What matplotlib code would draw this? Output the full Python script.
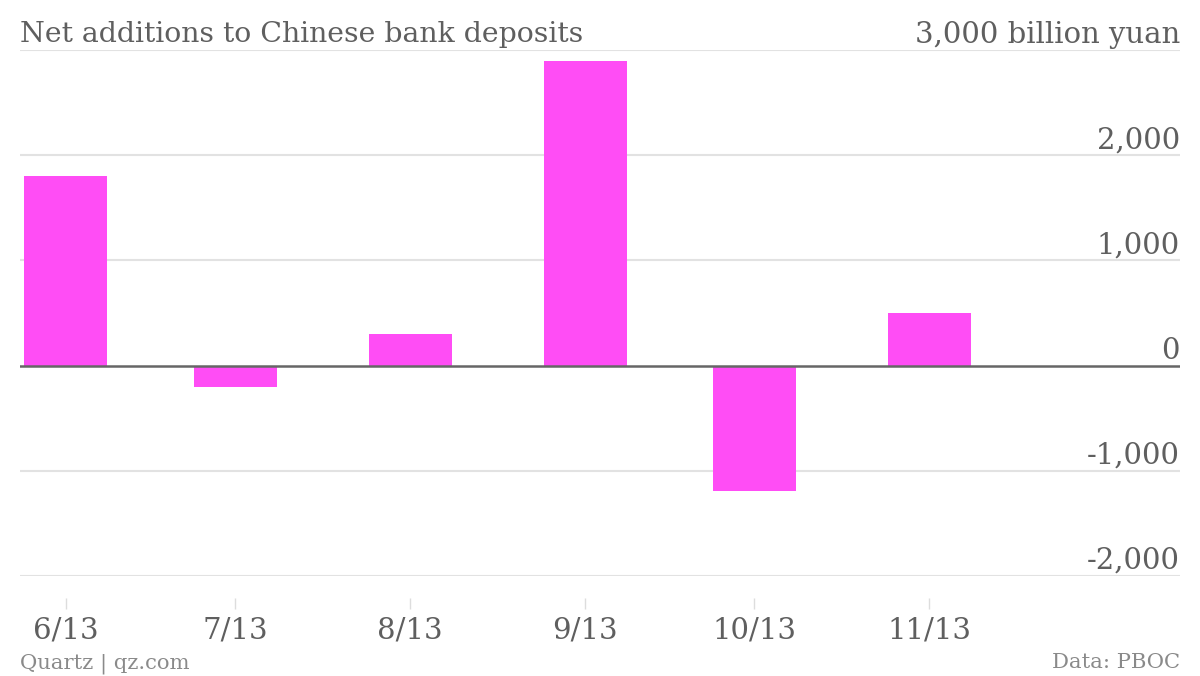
import matplotlib
matplotlib.use("Agg")
import matplotlib.pyplot as plt
import matplotlib.dates as mdates
import matplotlib.transforms as mtransforms
import numpy as np

# Net additions to deposits, billion yuan
months = ["2013-06-01", "2013-07-01", "2013-08-01", "2013-09-01", "2013-10-01", "2013-11-01"]
month_labels = ["6/13", "7/13", "8/13", "9/13", "10/13", "11/13"]
values = [1805, -200, 300, 2900, -1195, 500]
yticks = [-2000, -1000, 0, 1000, 2000, 3000]
ytick_labels = ["-2,000", "-1,000", "0", "1,000", "2,000", "3,000 billion yuan"]

BAR = "#FF4DF5"
TEXT = "#5f5f5f"
GRID = "#e2e2e2"
FONT = "DejaVu Serif"

fig = plt.figure(figsize=(12, 6.76), dpi=100)
ax = fig.add_axes([20 / 1200, 100 / 676, 1160 / 1200, 526 / 676])

dates = mdates.date2num(np.array(months, dtype="datetime64[D]"))
ax.bar(dates, values, width=14.7, color=BAR, zorder=2)

ax.set_xlim(dates[0] - 8.1, dates[0] + 197.4)
ax.set_ylim(-2000, 3000)

# gridlines + zero line
for v in yticks:
    if v == 0:
        ax.axhline(v, color="#666666", lw=1.8, zorder=3)
    else:
        ax.axhline(v, color=GRID, lw=1.5, zorder=1)

# y labels sit above gridlines, right aligned
trans = mtransforms.blended_transform_factory(ax.transAxes, ax.transData)
off = mtransforms.offset_copy(trans, fig=fig, x=0, y=7, units="dots")
for v, lab in zip(yticks, ytick_labels):
    ax.text(1.0, v, lab, transform=off, ha="right", va="baseline",
            fontsize=21, color=TEXT, family=FONT)
ax.set_yticks([])

for s in ["left", "right", "top"]:
    ax.spines[s].set_visible(False)
ax.spines["bottom"].set_position(("outward", 16))
ax.spines["bottom"].set_visible(False)

ax.set_xticks(dates)
ax.set_xticklabels(month_labels, family=FONT, fontsize=21, color=TEXT)
ax.tick_params(axis="x", length=8, width=1, color="#dddddd", pad=5)

fig.text(20 / 1200, 1 - 42 / 676, "Net additions to Chinese bank deposits",
         fontsize=20.4, color=TEXT, family=FONT, va="baseline", ha="left")
fig.text(20 / 1200, 1 - 668 / 676, "Quartz | qz.com",
         fontsize=15.2, color="#8a8a8a", family=FONT, va="baseline", ha="left")
fig.text(1180 / 1200, 1 - 668 / 676, "Data: PBOC",
         fontsize=15.2, color="#8a8a8a", family=FONT, va="baseline", ha="right")

fig.savefig("out.png", dpi=100, facecolor="white")
